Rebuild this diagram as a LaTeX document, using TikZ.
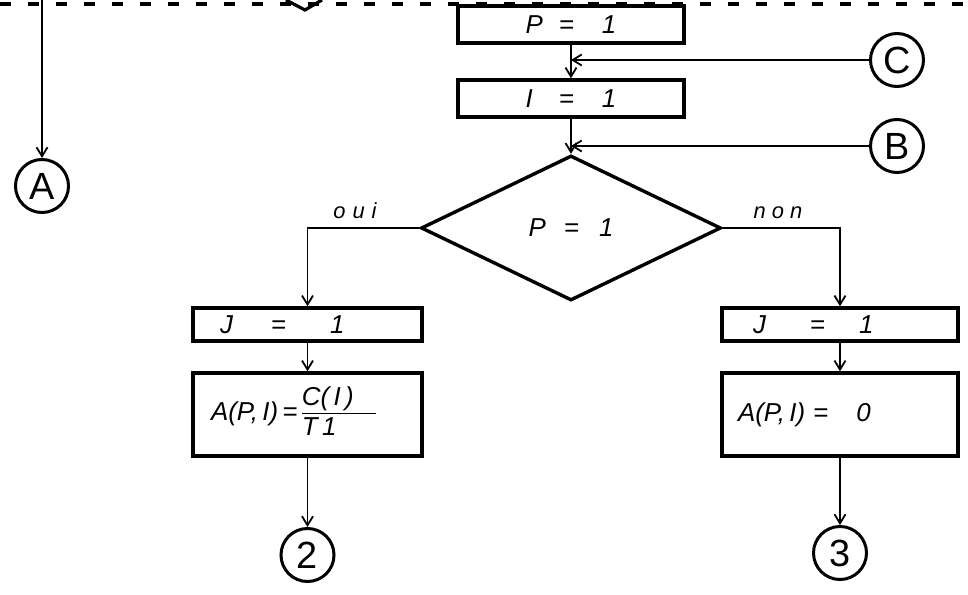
\documentclass[tikz,border=0pt]{standalone}
\usepackage{fontspec}
\setmainfont{Liberation Sans}
\usetikzlibrary{shapes.geometric,arrows.meta}
\setlength\arrayrulewidth{1.8pt}
\begin{document}
\begin{tikzpicture}[x=1bp,y=-1bp,
  every node/.style={font=\itshape\fontsize{26}{30}\selectfont},
  box/.style={draw, line width=3.4bp, inner sep=0pt},
  conn/.style={line width=1.8bp},
  arr/.style={conn, -{Straight Barb[length=9bp,width=11bp,line width=1.8bp]}},
  conncirc/.style={draw, circle, line width=3bp, minimum size=53bp, inner sep=0pt,
    font=\fontsize{38}{38}\selectfont},
  lbl/.style={font=\itshape\fontsize{22}{26}\selectfont},
]
\useasboundingbox (0,0) rectangle (968,595);

% dashed boundary at the top and cut-off symbol
\draw[line width=3.2bp, dash pattern=on 11bp off 17bp] (0,4) -- (968,4);
\draw[line width=3.2bp] (286,0) -- (305,10) -- (322,0);

% top chain
\node[box, minimum width=226bp, minimum height=37bp] (p1) at (571,24.5)
  {P\hspace{16bp}=\hspace{28bp}1\hspace{18bp}};
\node[box, minimum width=226bp, minimum height=37bp] (i1) at (571,98.5)
  {I\hspace{26bp}=\hspace{28bp}1\hspace{14bp}};
\node[conncirc] (c) at (897,60) {C};
\node[conncirc] (b) at (897,146) {B};
\node[draw, diamond, line width=3.4bp, minimum width=300bp, minimum height=145bp,
  inner sep=0pt] (d) at (571,228) {P\hspace{18bp}=\hspace{20bp}1};

% left: connector A
\node[conncirc] (a) at (42,186) {A};
\coordinate (atop) at (42,0);
\draw[arr] (atop) -- (a.north);

% oui branch
\node[box, minimum height=33bp, text width=175bp, inner xsep=27bp, align=left]
  (j1) at (307.5,324.5) {J\hspace{38bp}=\hspace{44bp}1};
\node[box, minimum height=83bp, text width=193bp, inner xsep=18bp, align=left]
  (a1) at (307.5,414.5)
  {A(P,\,I)\,=\,\begin{tabular}{@{}p{74bp}@{}}C(\,I\,)\\[-2bp]\hline T\,1\end{tabular}};
\node[conncirc] (n2) at (307.5,555) {2};

% non branch
\node[box, minimum height=33bp, text width=174bp, inner xsep=31bp, align=left]
  (j2) at (840,324.5) {J\hspace{44bp}=\hspace{34bp}1};
\node[box, minimum height=83bp, text width=204bp, inner xsep=16bp, align=left]
  (a2) at (840,414.5) {A(P,\,I)\hspace{8bp}=\hspace{28bp}0};
\node[conncirc] (n3) at (840,553) {3};

% labels
\node[lbl] (oui) at (355,211) {o\hspace{7bp}u\hspace{7bp}i};
\node[lbl] (non) at (778,213) {n\hspace{6bp}o\hspace{6bp}n};

% connectors
\draw[arr] (p1.south) -- (i1.north);
\draw[arr] (c.west) -- (p1.south |- c.west);
\draw[arr] (i1.south) -- (d.north);
\draw[arr] (b.west) -- (i1.south |- b.west);
\draw[arr] (d.west) -- (j1.north |- d.west) -- (j1.north);
\draw[arr] (d.east) -- (j2.north |- d.east) -- (j2.north);
\draw[arr] (j1.south) -- (a1.north);
\draw[arr] (j2.south) -- (a2.north);
\draw[arr] (a1.south) -- (n2.north);
\draw[arr] (a2.south) -- (n3.north);
\end{tikzpicture}
\end{document}
